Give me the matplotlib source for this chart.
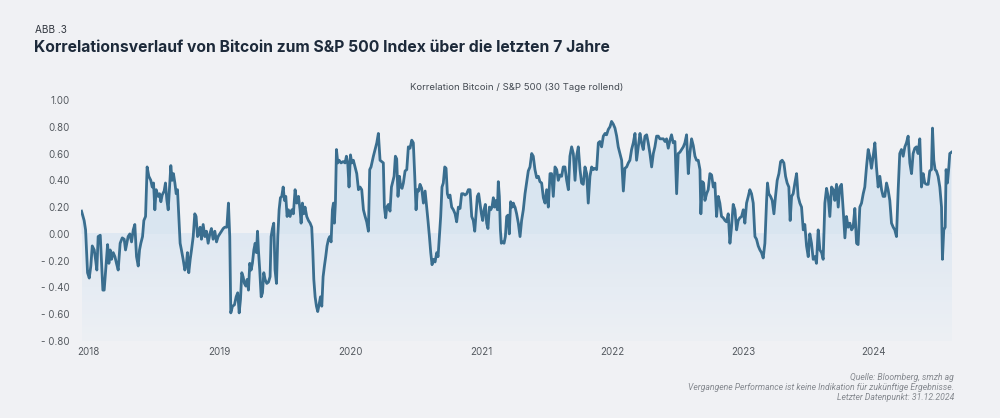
import matplotlib
matplotlib.use("Agg")
import matplotlib.pyplot as plt
import numpy as np
from matplotlib.colors import LinearSegmentedColormap

# ---- data (decimal year, 30-day rolling correlation) ----
years = [
    2017.949, 2017.969, 2017.980, 2017.987, 2017.995, 2018.008, 2018.020, 2018.031, 2018.046, 2018.056,
    2018.066, 2018.076, 2018.092, 2018.102, 2018.112, 2018.122, 2018.132, 2018.148, 2018.158, 2018.168,
    2018.178, 2018.191, 2018.204, 2018.216, 2018.229, 2018.244, 2018.260, 2018.275, 2018.285, 2018.295,
    2018.305, 2018.318, 2018.331, 2018.344, 2018.356, 2018.369, 2018.382, 2018.392, 2018.402, 2018.415,
    2018.425, 2018.438, 2018.450, 2018.463, 2018.478, 2018.489, 2018.499, 2018.509, 2018.519, 2018.534,
    2018.545, 2018.555, 2018.565, 2018.580, 2018.590, 2018.601, 2018.611, 2018.621, 2018.631, 2018.641,
    2018.651, 2018.662, 2018.672, 2018.682, 2018.692, 2018.702, 2018.712, 2018.725, 2018.738, 2018.748,
    2018.758, 2018.768, 2018.779, 2018.789, 2018.802, 2018.814, 2018.824, 2018.835, 2018.845, 2018.855,
    2018.865, 2018.878, 2018.891, 2018.903, 2018.916, 2018.929, 2018.941, 2018.954, 2018.967, 2018.980,
    2018.992, 2019.005, 2019.018, 2019.031, 2019.043,
    2019.059, 2019.071, 2019.081, 2019.089, 2019.102, 2019.117, 2019.130, 2019.142, 2019.153, 2019.163,
    2019.173, 2019.183, 2019.193, 2019.204, 2019.214, 2019.224, 2019.234, 2019.244, 2019.254, 2019.265,
    2019.275, 2019.285, 2019.293, 2019.300, 2019.310, 2019.321, 2019.331, 2019.341, 2019.351, 2019.364,
    2019.377, 2019.389, 2019.397, 2019.407, 2019.417, 2019.427, 2019.438, 2019.448, 2019.458, 2019.468,
    2019.478, 2019.489, 2019.499, 2019.509, 2019.519, 2019.529, 2019.542, 2019.555, 2019.567, 2019.580,
    2019.593, 2019.606, 2019.618, 2019.626, 2019.636, 2019.646, 2019.656, 2019.669, 2019.682, 2019.695,
    2019.707, 2019.715, 2019.723, 2019.733, 2019.743, 2019.753, 2019.763, 2019.774, 2019.784, 2019.794,
    2019.804, 2019.814, 2019.824, 2019.835, 2019.845, 2019.855, 2019.865, 2019.873, 2019.880, 2019.888,
    2019.896, 2019.906, 2019.916, 2019.931, 2019.947, 2019.962, 2019.972, 2019.982, 2019.992, 2020.003,
    2020.013, 2020.025, 2020.038, 2020.051, 2020.064, 2020.076, 2020.089, 2020.102, 2020.115, 2020.127,
    2020.140, 2020.150, 2020.160,
    2020.178, 2020.191, 2020.204, 2020.216, 2020.229, 2020.242, 2020.254, 2020.262, 2020.272, 2020.280,
    2020.293, 2020.305, 2020.316, 2020.326, 2020.336, 2020.346, 2020.356, 2020.366, 2020.377, 2020.387,
    2020.397, 2020.407, 2020.420, 2020.433, 2020.445, 2020.458, 2020.471, 2020.483, 2020.494, 2020.504,
    2020.514, 2020.524, 2020.534, 2020.547, 2020.560, 2020.573, 2020.585, 2020.595, 2020.606, 2020.616,
    2020.626, 2020.636, 2020.649, 2020.662, 2020.672, 2020.682, 2020.692, 2020.702, 2020.712, 2020.723,
    2020.733, 2020.743, 2020.753, 2020.763, 2020.776, 2020.789, 2020.802, 2020.814, 2020.827, 2020.840,
    2020.852, 2020.865, 2020.878, 2020.891, 2020.903, 2020.916, 2020.929, 2020.941, 2020.952, 2020.962,
    2020.972, 2020.982, 2020.992, 2021.003, 2021.013, 2021.023, 2021.033, 2021.043, 2021.053, 2021.064,
    2021.074, 2021.084, 2021.094, 2021.104, 2021.115, 2021.125, 2021.132, 2021.140, 2021.148, 2021.155,
    2021.165, 2021.176, 2021.186, 2021.196, 2021.206, 2021.216, 2021.226, 2021.237, 2021.247, 2021.257,
    2021.260, 2021.272, 2021.285, 2021.298, 2021.310, 2021.323, 2021.336, 2021.349, 2021.361, 2021.374,
    2021.387, 2021.399, 2021.412, 2021.425, 2021.438, 2021.450, 2021.463, 2021.476, 2021.489, 2021.501,
    2021.514, 2021.527, 2021.539, 2021.552, 2021.565, 2021.578, 2021.590, 2021.603, 2021.616, 2021.628,
    2021.641, 2021.654, 2021.667, 2021.679, 2021.692, 2021.705, 2021.718, 2021.730, 2021.743, 2021.756,
    2021.768, 2021.781, 2021.794, 2021.807, 2021.819, 2021.832, 2021.845, 2021.858, 2021.870, 2021.883,
    2021.896, 2021.908, 2021.921, 2021.934, 2021.947, 2021.959, 2021.972, 2021.985, 2021.997, 2022.010,
    2022.023, 2022.036, 2022.048, 2022.061, 2022.074, 2022.087, 2022.099, 2022.112, 2022.125, 2022.137,
    2022.150, 2022.163, 2022.176, 2022.188, 2022.201, 2022.214, 2022.226, 2022.239, 2022.252, 2022.265,
    2022.277, 2022.290, 2022.303, 2022.316, 2022.328, 2022.341, 2022.354, 2022.366,
    2022.379, 2022.392, 2022.405, 2022.417, 2022.430, 2022.443, 2022.455, 2022.468, 2022.481, 2022.494,
    2022.506, 2022.519, 2022.532, 2022.545, 2022.557, 2022.570, 2022.583, 2022.595, 2022.608, 2022.621,
    2022.634, 2022.646, 2022.659, 2022.672, 2022.679, 2022.690, 2022.700, 2022.710, 2022.723, 2022.735,
    2022.748, 2022.761, 2022.774, 2022.786, 2022.799, 2022.812, 2022.824, 2022.837, 2022.850, 2022.863,
    2022.875, 2022.888, 2022.901, 2022.913, 2022.926, 2022.939, 2022.952, 2022.964, 2022.977, 2022.990,
    2023.003, 2023.015, 2023.028, 2023.041, 2023.053, 2023.066, 2023.079, 2023.092, 2023.104, 2023.117,
    2023.130, 2023.142, 2023.155, 2023.168, 2023.181, 2023.188, 2023.198, 2023.211, 2023.224, 2023.237,
    2023.249, 2023.262, 2023.275, 2023.288, 2023.300, 2023.313, 2023.326, 2023.338, 2023.351, 2023.361,
    2023.372, 2023.384, 2023.397, 2023.410, 2023.422, 2023.435, 2023.448, 2023.461, 2023.473, 2023.486,
    2023.499, 2023.511, 2023.524, 2023.537, 2023.550, 2023.562, 2023.575, 2023.588, 2023.601, 2023.613,
    2023.626, 2023.639, 2023.651, 2023.664, 2023.677, 2023.690, 2023.702, 2023.715, 2023.728, 2023.740,
    2023.753, 2023.766, 2023.779, 2023.791, 2023.804, 2023.817, 2023.830, 2023.842, 2023.855, 2023.868,
    2023.880, 2023.893, 2023.906, 2023.919, 2023.931, 2023.944, 2023.957, 2023.969, 2023.982, 2023.995,
    2024.008, 2024.020, 2024.033, 2024.046, 2024.059, 2024.071, 2024.084, 2024.097, 2024.109, 2024.122,
    2024.135, 2024.148, 2024.160, 2024.173, 2024.186, 2024.198, 2024.211, 2024.224, 2024.237, 2024.249,
    2024.262, 2024.275, 2024.288, 2024.300, 2024.313, 2024.326, 2024.338, 2024.351, 2024.364, 2024.377,
    2024.389, 2024.402, 2024.415, 2024.427, 2024.440, 2024.448, 2024.458, 2024.468, 2024.478, 2024.491,
    2024.504, 2024.517, 2024.524, 2024.534, 2024.545, 2024.552, 2024.562, 2024.573, 2024.580, 2024.593,
]

corr = [
    0.17, 0.10, 0.03, -0.12, -0.29, -0.33, -0.24, -0.09, -0.12, -0.19,
    -0.27, -0.02, -0.01, -0.22, -0.42, -0.42, -0.29, -0.08, -0.22, -0.12,
    -0.19, -0.14, -0.17, -0.22, -0.27, -0.07, -0.03, -0.04, -0.12, -0.07,
    -0.02, 0.00, -0.06, 0.03, 0.07, -0.17, -0.24, -0.12, -0.07, -0.02,
    0.10, 0.13, 0.50, 0.43, 0.40, 0.35, 0.38, 0.18, 0.33, 0.28,
    0.30, 0.24, 0.29, 0.32, 0.38, 0.25, 0.18, 0.35, 0.51, 0.40,
    0.45, 0.38, 0.30, 0.33, 0.13, -0.07, -0.12, -0.19, -0.27, -0.24,
    -0.14, -0.29, -0.19, -0.12, -0.02, 0.15, 0.13, -0.02, 0.00, 0.05,
    -0.04, 0.07, -0.02, 0.02, -0.07, 0.00, 0.04, -0.04, 0.02, -0.06,
    -0.02, 0.00, 0.02, 0.04, 0.05,
    0.05, 0.23, -0.02, -0.59, -0.54, -0.53, -0.47, -0.44, -0.59, -0.49,
    -0.29, -0.32, -0.37, -0.39, -0.34, -0.42, -0.22, -0.27, -0.22, -0.12,
    -0.07, -0.14, 0.02, -0.12, -0.27, -0.47, -0.44, -0.29, -0.34, -0.37,
    -0.36, -0.32, -0.02, 0.04, 0.08, -0.27, -0.37, -0.02, 0.18, 0.27,
    0.28, 0.35, 0.25, 0.28, 0.13, 0.18, 0.13, 0.18, 0.15, 0.33,
    0.23, 0.28, 0.18, 0.08, 0.23, 0.15, 0.20, 0.13, 0.10, 0.08,
    0.05, -0.12, -0.34, -0.47, -0.54, -0.58, -0.53, -0.47, -0.54, -0.32,
    -0.24, -0.17, -0.09, -0.04, -0.02, -0.06, 0.18, 0.23, 0.08, 0.23,
    0.63, 0.53, 0.55, 0.53, 0.54, 0.53, 0.58, 0.53, 0.35, 0.59,
    0.53, 0.55, 0.50, 0.45, 0.33, 0.35, 0.33, 0.18, 0.13, 0.09,
    0.02, 0.48, 0.50,
    0.58, 0.63, 0.68, 0.75, 0.55, 0.54, 0.53, 0.20, 0.12, 0.20,
    0.22, 0.17, 0.35, 0.39, 0.43, 0.58, 0.56, 0.28, 0.43, 0.35,
    0.34, 0.38, 0.47, 0.48, 0.65, 0.64, 0.70, 0.68, 0.43, 0.18,
    0.33, 0.32, 0.37, 0.34, 0.23, 0.32, 0.20, 0.10, -0.02, -0.14,
    -0.23, -0.19, -0.21, -0.14, -0.17, -0.02, 0.13, 0.35, 0.38, 0.50,
    0.49, 0.30, 0.27, 0.29, 0.20, 0.18, 0.15, 0.09, 0.20, 0.19,
    0.30, 0.30, 0.29, 0.30, 0.33, 0.33, 0.13, 0.10, 0.02, 0.15,
    0.28, 0.30, 0.23, 0.15, 0.10, 0.18, 0.22, 0.08, 0.04, 0.20,
    0.18, 0.20, 0.27, 0.20, 0.25, 0.18, 0.39, 0.28, 0.03, -0.07,
    -0.06, -0.07, -0.02, 0.13, 0.14, 0.00, 0.24, 0.20, 0.23, 0.20,
    0.20, 0.15, 0.08, -0.02, 0.10, 0.18, 0.30, 0.39, 0.47, 0.50,
    0.60, 0.58, 0.48, 0.42, 0.43, 0.39, 0.38, 0.27, 0.23, 0.33,
    0.20, 0.45, 0.45, 0.28, 0.50, 0.48, 0.40, 0.44, 0.43, 0.50,
    0.50, 0.40, 0.33, 0.58, 0.65, 0.60, 0.40, 0.58, 0.65, 0.48,
    0.38, 0.37, 0.50, 0.45, 0.23, 0.43, 0.50, 0.48, 0.49, 0.48,
    0.68, 0.69, 0.65, 0.73, 0.75, 0.74, 0.78, 0.80, 0.84, 0.82,
    0.79, 0.73, 0.65, 0.60, 0.55, 0.32, 0.49, 0.50, 0.53, 0.55,
    0.63, 0.68, 0.75, 0.55, 0.65, 0.75, 0.68, 0.63, 0.73, 0.74,
    0.68, 0.60, 0.50, 0.60, 0.65, 0.73, 0.73, 0.71,
    0.71, 0.71, 0.69, 0.71, 0.64, 0.70, 0.74, 0.68, 0.69, 0.30,
    0.60, 0.61, 0.63, 0.65, 0.68, 0.74, 0.45, 0.60, 0.71, 0.66,
    0.58, 0.55, 0.55, 0.48, 0.15, 0.39, 0.38, 0.25, 0.30, 0.33,
    0.45, 0.44, 0.35, 0.38, 0.13, 0.28, 0.23, 0.13, 0.12, 0.10,
    0.09, 0.15, -0.07, 0.05, 0.22, 0.18, 0.03, 0.10, 0.12, 0.13,
    0.18, 0.08, 0.23, 0.28, 0.33, 0.30, 0.23, -0.02, -0.04, -0.09,
    -0.12, -0.14, -0.18, -0.07, 0.25, 0.38, 0.30, 0.28, 0.25, 0.15,
    0.28, 0.40, 0.45, 0.54, 0.55, 0.53, 0.43, 0.38, 0.35, 0.10,
    0.28, 0.30, 0.38, 0.45, 0.28, 0.23, 0.20, 0.03, 0.07, -0.09,
    -0.17, 0.00, -0.07, -0.19, -0.17, -0.22, 0.03, -0.12, -0.14, -0.19,
    0.23, 0.34, 0.28, 0.13, 0.35, 0.33, 0.25, 0.37, 0.20, 0.35,
    0.37, 0.18, -0.03, 0.13, 0.05, 0.08, 0.03, 0.05, 0.19, -0.07,
    -0.08, 0.20, 0.23, 0.30, 0.35, 0.50, 0.63, 0.58, 0.49, 0.58,
    0.68, 0.50, 0.35, 0.43, 0.33, 0.28, 0.28, 0.38, 0.33, 0.25,
    0.08, 0.05, 0.03, -0.02, 0.33, 0.60, 0.63, 0.58, 0.65, 0.68,
    0.73, 0.53, 0.45, 0.60, 0.64, 0.65, 0.60, 0.71, 0.35, 0.45,
    0.38, 0.37, 0.37, 0.47, 0.48, 0.79, 0.55, 0.48, 0.47, 0.43,
    0.35, 0.20, -0.19, 0.03, 0.05, 0.48, 0.38, 0.50, 0.60, 0.61,
]

y_ticks = [1.0, 0.8, 0.6, 0.4, 0.2, 0.0, -0.2, -0.4, -0.6, -0.8]
y_labels = ["1.00", "0.80", "0.60", "0.40", "0.20", "0.00",
            "- 0.20", "- 0.40", "- 0.60", "- 0.80"]
x_ticks = [2018, 2019, 2020, 2021, 2022, 2023, 2024]
x_labels = ["2018", "2019", "2020", "2021", "2022", "2023", "2024"]

# ---- style ----
BG = "#f0f1f4"
LINE = "#3a6e8f"
FILL = "#d9e5f0"
TXT = "#555a60"
FONT = ["Inter", "DejaVu Sans"]
plt.rcParams["font.family"] = FONT

x = np.array(years)
y = np.array(corr)

fig = plt.figure(figsize=(10, 4.18), dpi=100, facecolor=BG)
ax = fig.add_axes([0.081, 0.1842, 0.871, 0.5766])
ax.set_facecolor(BG)

# gradient band below zero
grad = np.linspace(0, 1, 256).reshape(-1, 1)
cmap = LinearSegmentedColormap.from_list("g", ["#edf0f4", "#dfe8f2"])
ax.imshow(grad, extent=[x[0], x[-1], 0, -0.8], origin="upper", aspect="auto",
          cmap=cmap, zorder=0, interpolation="bilinear")

ax.fill_between(x, y, 0, where=y > 0, interpolate=True, color=FILL,
                linewidth=0, zorder=1)
ax.plot(x, y, color=LINE, linewidth=2.0, solid_joinstyle="round", zorder=3)

ax.set_xlim(2017.945, 2024.597)
ax.set_ylim(-0.8, 1.0)
ax.set_yticks(y_ticks)
ax.set_yticklabels(y_labels)
ax.set_xticks(x_ticks)
ax.set_xticklabels(x_labels)
ax.tick_params(axis="both", length=0, labelsize=7, labelcolor=TXT)
ax.tick_params(axis="y", pad=8)
ax.tick_params(axis="x", pad=4)
for s in ax.spines.values():
    s.set_visible(False)

# ---- texts ----
fig.text(0.035, 1 - 30 / 418, "ABB .3", fontsize=7.2, color="#333840",
         va="center", ha="left")
fig.text(0.034, 1 - 47 / 418,
         "Korrelationsverlauf von Bitcoin zum S&P 500 Index über die letzten 7 Jahre",
         fontsize=11.3, fontweight="bold", color="#1d2a3a", va="center", ha="left")
fig.text(0.517, 1 - 88 / 418, "Korrelation Bitcoin / S&P 500 (30 Tage rollend)",
         fontsize=6.9, color="#444a52", va="center", ha="center")

foot = ["Quelle: Bloomberg, smzh ag",
        "Vergangene Performance ist keine Indikation für zukünftige Ergebnisse.",
        "Letzter Datenpunkt: 31.12.2024"]
for i, t in enumerate(foot):
    fig.text(0.954, 1 - (378 + 9.7 * i) / 418, t, fontsize=6.2, style="italic",
             color="#85898f", va="center", ha="right",
             family=["Roboto", "DejaVu Sans"])

fig.savefig("out.png", dpi=100, facecolor=BG)
